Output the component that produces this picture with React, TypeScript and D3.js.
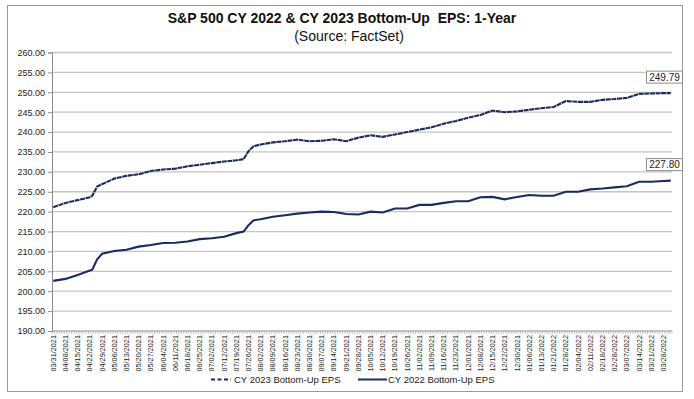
import React, { useEffect, useRef } from "react";
import * as d3 from "d3";

// weekly x-axis labels (every 5th trading day)
const labelDates = [
  "03/31/2021", "04/08/2021", "04/15/2021", "04/22/2021", "04/29/2021", "05/06/2021", "05/13/2021",
  "05/20/2021", "05/27/2021", "06/04/2021", "06/11/2021", "06/18/2021", "06/25/2021", "07/02/2021",
  "07/12/2021", "07/19/2021", "07/26/2021", "08/02/2021", "08/09/2021", "08/16/2021", "08/23/2021",
  "08/30/2021", "09/07/2021", "09/14/2021", "09/21/2021", "09/28/2021", "10/05/2021", "10/12/2021",
  "10/19/2021", "10/26/2021", "11/02/2021", "11/09/2021", "11/16/2021", "11/23/2021", "12/01/2021",
  "12/08/2021", "12/15/2021", "12/22/2021", "12/30/2021", "01/06/2022", "01/13/2022", "01/21/2022",
  "01/28/2022", "02/04/2022", "02/11/2022", "02/18/2022", "02/28/2022", "03/07/2022", "03/14/2022",
  "03/21/2022", "03/28/2022",
];
const tradingDays = 254;

// trading-day index of each sample
const sampleDays = [
  0, 5, 10, 15, 16, 18, 20, 25, 30, 35, 40, 45, 50, 55, 60, 65, 70, 75, 78, 80, 82, 85, 90, 95, 100,
  105, 110, 115, 120, 125, 130, 135, 140, 145, 150, 155, 160, 165, 170, 175, 180, 185, 190, 195, 200,
  205, 210, 215, 220, 225, 230, 235, 240, 245, 250, 253,
];
const cy2023 = [
  221.1, 222.2, 222.9, 223.6, 224.0, 226.3, 226.9, 228.3, 229.0, 229.4, 230.2, 230.6, 230.8, 231.4,
  231.8, 232.2, 232.6, 232.9, 233.2, 235.2, 236.4, 236.9, 237.4, 237.7, 238.1, 237.7, 237.8, 238.2,
  237.7, 238.6, 239.2, 238.8, 239.4, 240.0, 240.6, 241.2, 242.1, 242.8, 243.6, 244.3, 245.4, 245.0,
  245.2, 245.6, 246.0, 246.3, 247.8, 247.6, 247.6, 248.1, 248.3, 248.6, 249.6, 249.7, 249.8, 249.79,
];
const cy2022 = [
  202.6, 203.1, 204.1, 205.2, 205.4, 208.0, 209.4, 210.1, 210.4, 211.2, 211.6, 212.1, 212.2, 212.5,
  213.1, 213.3, 213.7, 214.6, 215.0, 216.6, 217.8, 218.1, 218.7, 219.1, 219.5, 219.8, 220.0, 219.9,
  219.4, 219.3, 220.0, 219.8, 220.8, 220.8, 221.7, 221.7, 222.2, 222.6, 222.6, 223.6, 223.7, 223.1,
  223.7, 224.2, 224.0, 224.0, 225.0, 225.0, 225.6, 225.8, 226.1, 226.4, 227.5, 227.5, 227.7, 227.8,
];
const yTicks = d3.range(190, 260.01, 5);

const W = 694, H = 399;
const navy = "#1b2b5e";
const font = "'Liberation Sans', Arial, sans-serif";

export default function App() {
  const ref = useRef<SVGSVGElement>(null);

  useEffect(() => {
    const svg = d3.select(ref.current);
    svg.selectAll("*").remove();

    const plot = { left: 52, right: 672, top: 52.5, bottom: 331 };

    const x = d3.scaleBand<number>().domain(d3.range(tradingDays)).range([plot.left, plot.right]);
    const xc = (i: number) => (x(i) as number) + x.bandwidth() / 2;
    const y = d3.scaleLinear().domain([190, 260]).range([plot.bottom, plot.top]);

    // chart border
    svg.append("rect")
      .attr("x", 7.5).attr("y", 5.5).attr("width", 675).attr("height", 386)
      .attr("fill", "white").attr("stroke", "#9a9a9a");

    // title
    svg.append("text")
      .attr("x", 342).attr("y", 23).attr("text-anchor", "middle")
      .style("font-family", font).style("font-size", "14px").style("font-weight", "bold")
      .attr("fill", "#111")
      .text("S&P 500 CY 2022 & CY 2023 Bottom-Up\u00a0 EPS: 1-Year");
    svg.append("text")
      .attr("x", 349).attr("y", 41).attr("text-anchor", "middle")
      .style("font-family", font).style("font-size", "14px")
      .attr("fill", "#111")
      .text("(Source: FactSet)");

    // gridlines
    svg.append("g").selectAll("line").data(yTicks.filter((t) => t > 190)).join("line")
      .attr("x1", plot.left).attr("x2", plot.right)
      .attr("y1", (d) => y(d)).attr("y2", (d) => y(d))
      .attr("stroke", "#c4c4c4").attr("stroke-width", 1.3);

    // y axis
    const yAxis = svg.append("g")
      .attr("transform", `translate(${plot.left},0)`)
      .call(d3.axisLeft(y).tickValues(yTicks).tickFormat(d3.format(".2f")).tickSize(4).tickPadding(3));
    yAxis.select(".domain").attr("stroke", "#8c8c8c");
    yAxis.selectAll(".tick line").attr("stroke", "#8c8c8c");
    yAxis.selectAll("text").style("font-family", font).style("font-size", "9px").attr("fill", "#222");

    // x axis (minor ticks every trading day)
    svg.append("line")
      .attr("x1", plot.left).attr("x2", plot.right)
      .attr("y1", plot.bottom).attr("y2", plot.bottom)
      .attr("stroke", "#8c8c8c");
    svg.append("g").selectAll("line").data(d3.range(tradingDays + 1)).join("line")
      .attr("x1", (i) => plot.left + i * x.step()).attr("x2", (i) => plot.left + i * x.step())
      .attr("y1", plot.bottom).attr("y2", plot.bottom + 3)
      .attr("stroke", "#a0a0a0").attr("stroke-width", 0.6);

    svg.append("g").selectAll("text").data(labelDates).join("text")
      .attr("transform", (d, i) => `translate(${xc(i * 5) + 2.5},${plot.bottom + 4}) rotate(-90)`)
      .attr("text-anchor", "end")
      .style("font-family", font).style("font-size", "7.3px").attr("fill", "#222")
      .text((d) => d);

    // lines
    const pts23 = sampleDays.map((d, i) => [xc(d), y(cy2023[i])] as [number, number]);
    const pts22 = sampleDays.map((d, i) => [xc(d), y(cy2022[i])] as [number, number]);
    const line = d3.line();

    svg.append("path").attr("d", line(pts23))
      .attr("fill", "none").attr("stroke", navy).attr("stroke-width", 2.1)
      .attr("stroke-dasharray", "5,0.6");
    svg.append("path").attr("d", line(pts22))
      .attr("fill", "none").attr("stroke", navy).attr("stroke-width", 2.1);

    // end value labels
    const endLabels = [
      { v: cy2023[cy2023.length - 1] },
      { v: cy2022[cy2022.length - 1] },
    ];
    endLabels.forEach((e) => {
      const cy = y(e.v) - 16;
      svg.append("rect")
        .attr("x", 646.5).attr("y", cy - 6).attr("width", 36).attr("height", 12)
        .attr("fill", "white").attr("stroke", "#8c8c8c");
      svg.append("text")
        .attr("x", 664.5).attr("y", cy + 3.5).attr("text-anchor", "middle")
        .style("font-family", font).style("font-size", "10px").attr("fill", "#222")
        .text(d3.format(".2f")(e.v));
    });

    // legend
    const legend = [
      { name: "CY 2023 Bottom-Up EPS", dash: "4,2.5", x0: 211, x1: 231, tx: 234 },
      { name: "CY 2022 Bottom-Up EPS", dash: null, x0: 358, x1: 387, tx: 388 },
    ];
    legend.forEach((l) => {
      svg.append("line")
        .attr("x1", l.x0).attr("x2", l.x1).attr("y1", 379.5).attr("y2", 379.5)
        .attr("stroke", navy).attr("stroke-width", 2)
        .attr("stroke-dasharray", l.dash);
      svg.append("text")
        .attr("x", l.tx).attr("y", 383)
        .style("font-family", font).style("font-size", "9.5px").attr("fill", "#222")
        .text(l.name);
    });
  }, []);

  return (
    <svg ref={ref} width={W} height={H}
      style={{ position: "absolute", left: 0, top: 0, background: "white" }} />
  );
}
